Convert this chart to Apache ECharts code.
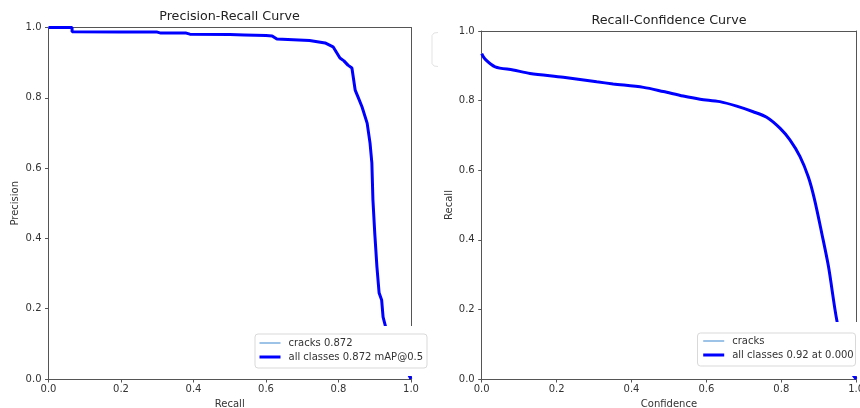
<!DOCTYPE html>
<html>
<head>
<meta charset="utf-8">
<script src="https://cdn.jsdelivr.net/npm/echarts@6/dist/echarts.min.js"></script>
<style>
  html, body { margin: 0; padding: 0; background: #fff; }
  #chart { width: 860px; height: 408px; }
</style>
</head>
<body>
<div id="chart"></div>
<script>
// Precision-Recall curve (left)
const prRecall = [0, 0.065, 0.065, 0.2, 0.3, 0.31, 0.38, 0.39, 0.5, 0.54, 0.6, 0.617, 0.63, 0.72, 0.763, 0.785, 0.804, 0.815, 0.826, 0.837, 0.846, 0.854, 0.865, 0.879, 0.887, 0.892, 0.895, 0.9, 0.906, 0.912, 0.919, 0.923, 0.93, 0.96, 0.995, 1.0];
const prPrecision = [1, 1, 0.988, 0.987, 0.987, 0.984, 0.984, 0.981, 0.98, 0.979, 0.977, 0.976, 0.967, 0.963, 0.956, 0.945, 0.913, 0.905, 0.893, 0.885, 0.822, 0.802, 0.774, 0.728, 0.671, 0.615, 0.509, 0.415, 0.319, 0.245, 0.225, 0.176, 0.148, 0.08, 0.01, 0];

// Recall-Confidence curve (right)
const rcConf = [0, 0.009, 0.036, 0.084, 0.129, 0.218, 0.307, 0.351, 0.432, 0.485, 0.538, 0.583, 0.636, 0.681, 0.725, 0.761, 0.797, 0.823, 0.85, 0.872, 0.888, 0.908, 0.926, 0.948, 0.975, 1.0];
const rcRecall = [0.935, 0.919, 0.897, 0.888, 0.878, 0.867, 0.854, 0.848, 0.838, 0.826, 0.813, 0.804, 0.797, 0.784, 0.768, 0.752, 0.72, 0.687, 0.639, 0.581, 0.519, 0.419, 0.323, 0.17, 0.04, 0];

const prName1 = "cracks 0.872";
const prName2 = "all classes 0.872 mAP@0.5";
const rcName1 = "cracks";
const rcName2 = "all classes 0.92 at 0.000";

const font = "DejaVu Sans";
const spine = "#555";

function zip(a, b) {
  return a.map((v, i) => [v, b[i]]);
}

function mainXAxis(grid, name) {
  return {
    gridIndex: grid, type: "value", min: 0, max: 1, interval: 0.2,
    axisLine: { lineStyle: { color: spine, width: 1 } },
    axisTick: { length: 3.5, lineStyle: { color: spine } },
    axisLabel: { margin: 5.5, fontSize: 10, color: "#333", fontFamily: font,
      formatter: (v) => v.toFixed(1) },
    splitLine: { show: false },
    name: name, nameLocation: "middle", nameGap: 19.5,
    nameTextStyle: { fontSize: 10, color: "#333", fontFamily: font },
  };
}
function mainYAxis(grid, name, gap) {
  return {
    gridIndex: grid, type: "value", min: 0, max: 1, interval: 0.2,
    axisLine: { show: true, lineStyle: { color: spine, width: 1 } },
    axisTick: { show: true, length: 3.5, lineStyle: { color: spine } },
    axisLabel: { margin: 7, fontSize: 10, color: "#333", fontFamily: font,
      formatter: (v) => v.toFixed(1) },
    splitLine: { show: false },
    name: name, nameLocation: "middle", nameGap: gap,
    nameTextStyle: { fontSize: 10, color: "#333", fontFamily: font },
  };
}
// top / right spines
function frameAxis(grid, pos) {
  return {
    gridIndex: grid, type: "value", min: 0, max: 1, position: pos,
    axisLine: { show: true, onZero: false, lineStyle: { color: spine, width: 1 } },
    axisTick: { show: false }, axisLabel: { show: false }, splitLine: { show: false },
  };
}

function legend(left, top, names) {
  return {
    left: left, top: top, orient: "vertical", z: 100, padding: 0,
    itemWidth: 21, itemHeight: 10, itemGap: 4,
    textStyle: { fontSize: 10, color: "#333", fontFamily: font, padding: [0, 0, 0, 3] },
    data: [
      { name: names[0], itemStyle: { opacity: 0 }, lineStyle: { width: 2, color: "#9dc3e6" } },
      { name: names[1], itemStyle: { opacity: 0 }, lineStyle: { width: 3, color: "#0000ff" } },
    ],
  };
}

var myChart = echarts.init(document.getElementById("chart"));
var option = {
  animation: false,
  backgroundColor: "#fff",
  grid: [
    { left: 48.5, right: 449, top: 27.5, bottom: 29, containLabel: false, outerBoundsMode: "none" },
    { left: 481.7, right: 3.8, top: 31, bottom: 29, containLabel: false, outerBoundsMode: "none" },
  ],
  xAxis: [mainXAxis(0, "Recall"), frameAxis(0, "top"), mainXAxis(1, "Confidence"), frameAxis(1, "top")],
  yAxis: [mainYAxis(0, "Precision", 28), frameAxis(0, "right"), mainYAxis(1, "Recall", 27), frameAxis(1, "right")],
  legend: [legend(258, 338, [prName1, prName2]), legend(701.7, 336, [rcName1, rcName2])],
  graphic: [
    // titles
    { type: "text", x: 229.5, y: 17, z: 100,
      style: { text: "Precision-Recall Curve", font: "12.7px '" + font + "'", fill: "#222", align: "center", verticalAlign: "middle" } },
    { type: "text", x: 669, y: 20.7, z: 100,
      style: { text: "Recall-Confidence Curve", font: "12.7px '" + font + "'", fill: "#222", align: "center", verticalAlign: "middle" } },
    // pasted-over regions behind the legends
    { type: "rect", z: 50, shape: { x: 250, y: 326, width: 180, height: 50 }, style: { fill: "#fff" } },
    { type: "rect", z: 50, shape: { x: 692, y: 322, width: 168, height: 54 }, style: { fill: "#fff" } },
    // legend boxes
    { type: "rect", z: 60, shape: { x: 255, y: 334, width: 172, height: 34, r: 3 }, style: { fill: "#fff", stroke: "#d9d9d9", lineWidth: 1 } },
    { type: "rect", z: 60, shape: { x: 697.5, y: 333, width: 158, height: 33, r: 3 }, style: { fill: "#fff", stroke: "#d9d9d9", lineWidth: 1 } },
    // faint leftover legend edge
    { type: "polyline", z: 60, shape: { points: [[438, 32.5], [434, 33], [432, 35.5], [432, 63.5], [434, 66], [438, 66.5]] },
      style: { fill: null, stroke: "#e3e3e3", lineWidth: 1 } },
  ],
  series: [
    { name: prName1, type: "line", xAxisIndex: 0, yAxisIndex: 0, data: zip(prRecall, prPrecision),
      symbol: "none", lineStyle: { width: 1, color: "#9dc3e6" }, itemStyle: { color: "#9dc3e6" }, z: 2 },
    { name: prName2, type: "line", xAxisIndex: 0, yAxisIndex: 0, data: zip(prRecall, prPrecision),
      symbol: "none", lineStyle: { width: 3, color: "#0000ff" }, itemStyle: { color: "#0000ff" }, z: 3 },
    { name: rcName1, type: "line", xAxisIndex: 2, yAxisIndex: 2, data: zip(rcConf, rcRecall),
      symbol: "none", smooth: 0.3, lineStyle: { width: 1, color: "#9dc3e6" }, itemStyle: { color: "#9dc3e6" }, z: 2 },
    { name: rcName2, type: "line", xAxisIndex: 2, yAxisIndex: 2, data: zip(rcConf, rcRecall),
      symbol: "none", smooth: 0.3, lineStyle: { width: 3, color: "#0000ff" }, itemStyle: { color: "#0000ff" }, z: 3 },
  ],
};
myChart.setOption(option);
</script>
</body>
</html>
